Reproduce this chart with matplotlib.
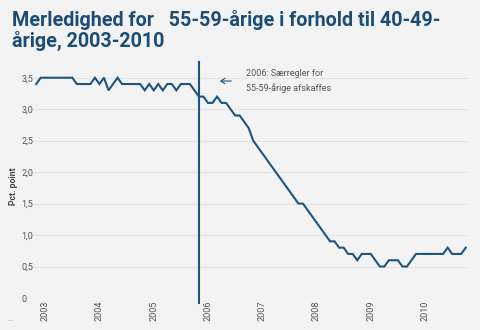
import matplotlib
matplotlib.use("Agg")
import matplotlib.pyplot as plt
from matplotlib.patches import FancyArrowPatch
import numpy as np

# monthly values, jan 2003 - dec 2010 (pct. point)
values = [3.4, 3.5, 3.5, 3.5, 3.5, 3.5, 3.5, 3.5, 3.5, 3.4, 3.4, 3.4,
          3.4, 3.5, 3.4, 3.5, 3.3, 3.4, 3.5, 3.4, 3.4, 3.4, 3.4, 3.4,
          3.3, 3.4, 3.3, 3.4, 3.3, 3.4, 3.4, 3.3, 3.4, 3.4, 3.4, 3.3,
          3.2, 3.2, 3.1, 3.1, 3.2, 3.1, 3.1, 3.0, 2.9, 2.9, 2.8, 2.7,
          2.5, 2.4, 2.3, 2.2, 2.1, 2.0, 1.9, 1.8, 1.7, 1.6, 1.5, 1.5,
          1.4, 1.3, 1.2, 1.1, 1.0, 0.9, 0.9, 0.8, 0.8, 0.7, 0.7, 0.6,
          0.7, 0.7, 0.7, 0.6, 0.5, 0.5, 0.6, 0.6, 0.6, 0.5, 0.5, 0.6,
          0.7, 0.7, 0.7, 0.7, 0.7, 0.7, 0.7, 0.8, 0.7, 0.7, 0.7, 0.8]
years = [2003, 2004, 2005, 2006, 2007, 2008, 2009, 2010]
yticks = [0, 0.5, 1.0, 1.5, 2.0, 2.5, 3.0, 3.5]
ytick_labels = ["0", "0,5", "1,0", "1,5", "2,0", "2,5", "3,0", "3,5"]
event_month = 36  # jan 2006

navy = "#1c5585"
bg = "#f3f3f3"

fig = plt.figure(figsize=(4.8, 3.3), dpi=100, facecolor=bg)
ax = fig.add_axes([33/480, 32/330, 435/480, 236/330], facecolor=bg)

x = np.arange(len(values))
ax.plot(x, values, color=navy, lw=1.5, solid_joinstyle="miter")
ax.plot([event_month, event_month], [-0.08, 3.75], color=navy, lw=1.5,
        clip_on=False)

ax.set_xlim(-0.7, 95.5)
ax.set_ylim(0, 3.75)

ax.set_yticks(yticks)
ax.set_yticklabels(ytick_labels)
ax.set_xticks([12 * i + 2 for i in range(len(years))])
ax.set_xticklabels([str(y) for y in years], rotation=90)

ax.grid(axis="y", color="#e3e3e3", lw=0.8)
ax.set_axisbelow(True)
for s in ax.spines.values():
    s.set_visible(False)
ax.tick_params(axis="both", length=0, labelsize=6.5, labelcolor="#555555")
ax.tick_params(axis="y", pad=8.5)
ax.tick_params(axis="x", pad=2)
for lab in ax.get_yticklabels():
    lab.set_horizontalalignment("left")
    lab.set_family("Roboto")
for lab in ax.get_xticklabels():
    lab.set_family("Roboto")

fig.text(14/480, 1 - 186/330, "Pct. point", rotation=90, ha="center",
         va="center", fontsize=6.3, fontweight="bold", color="#444444",
         family="Roboto")

# arrow + note for the 2006 rule change
fig.patches.append(FancyArrowPatch(
    (234/480, 1 - 81/330), (217/480, 1 - 81/330), transform=fig.transFigure,
    arrowstyle="->,head_length=3,head_width=2", color=navy, lw=0.8))
fig.text(246/480, 1 - 81/330, "2006: Særregler for\n55-59-årige afskaffes",
         ha="left", va="center", fontsize=6.5, color="#555555",
         family="Roboto", linespacing=1.6)

fig.text(12/480, 1 - 10/330,
         "Merledighed for   55-59-årige i forhold til 40-49-\nårige, 2003-2010",
         ha="left", va="top", fontsize=14.2, fontweight="bold", color="#1b4d78",
         family="Roboto", linespacing=1.05)

fig.text(10/480, 1 - 321/330, "—", fontsize=4, color="#aaaaaa",
         ha="center", va="center")

fig.savefig("out.png", dpi=100, facecolor=bg)
